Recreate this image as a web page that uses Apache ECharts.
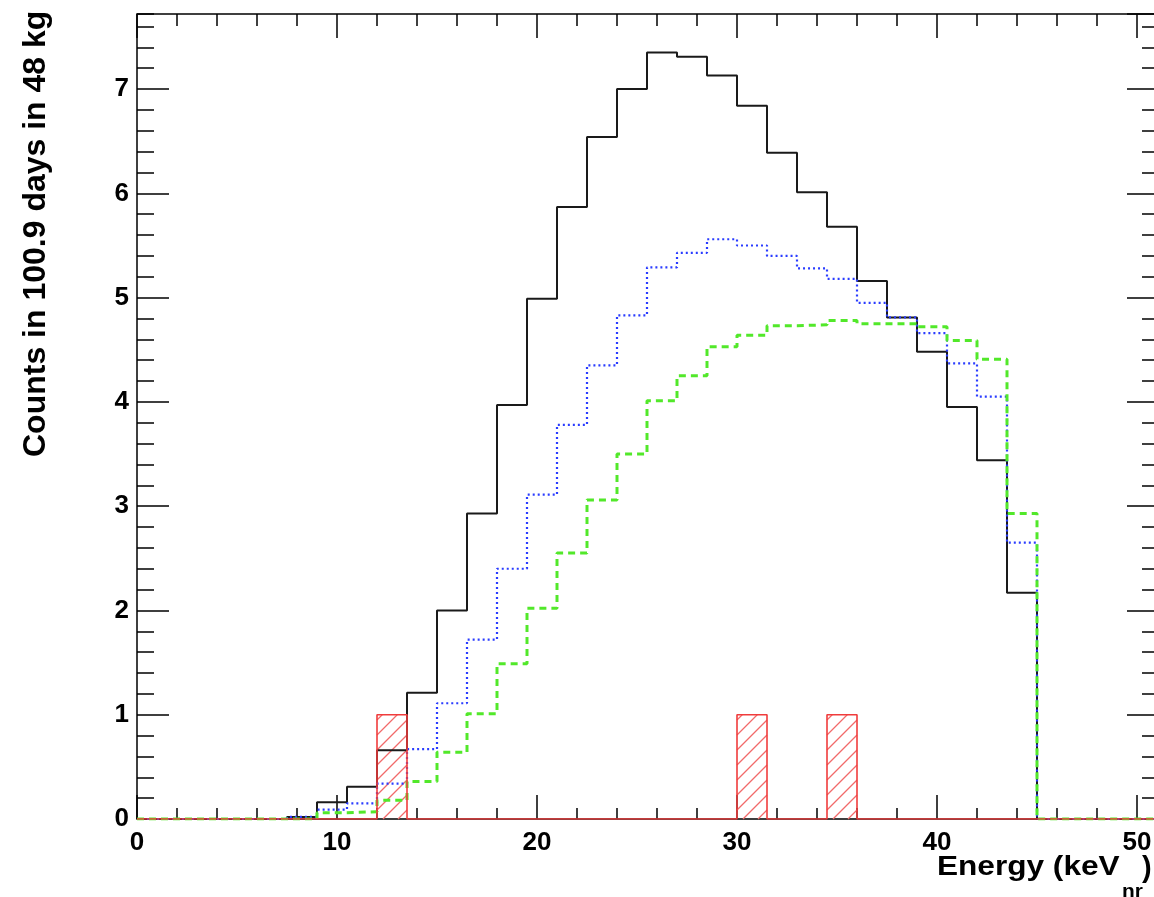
<!DOCTYPE html>
<html>
<head>
<meta charset="utf-8">
<script src="https://cdn.jsdelivr.net/npm/echarts@6/dist/echarts.min.js"></script>
<style>
  html, body { margin: 0; padding: 0; background: #fff; }
  #main { width: 1154px; height: 897px; }
</style>
</head>
<body>
<div id="main"></div>
<script>
// bin edges in keV (1.5 keV bins)
var edges = [0, 1.5, 3, 4.5, 6, 7.5, 9, 10.5, 12, 13.5, 15, 16.5, 18, 19.5, 21, 22.5, 24, 25.5,
  27, 28.5, 30, 31.5, 33, 34.5, 36, 37.5, 39, 40.5, 42, 43.5, 45, 46.5, 48, 49.5, 51];

// counts per bin
var black = [0, 0, 0, 0, 0, 0.02, 0.16, 0.31, 0.66, 1.21, 2.0, 2.93, 3.97, 4.99, 5.87, 6.54, 7.0,
  7.35, 7.31, 7.13, 6.84, 6.39, 6.01, 5.68, 5.16, 4.81, 4.48, 3.95, 3.44, 2.17, 0, 0, 0, 0];
var blue = [0, 0, 0, 0, 0, 0.02, 0.09, 0.15, 0.34, 0.67, 1.11, 1.72, 2.40, 3.11, 3.78, 4.35, 4.83,
  5.29, 5.43, 5.56, 5.50, 5.40, 5.28, 5.18, 4.95, 4.81, 4.66, 4.37, 4.05, 2.65, 0, 0, 0, 0];
var green = [0, 0, 0, 0, 0, 0, 0.06, 0.07, 0.18, 0.36, 0.64, 1.01, 1.49, 2.02, 2.55, 3.06, 3.50,
  4.01, 4.25, 4.53, 4.64, 4.73, 4.74, 4.78, 4.75, 4.75, 4.72, 4.59, 4.41, 2.93, 0, 0, 0, 0];
var red = [0, 0, 0, 0, 0, 0, 0, 0, 1, 0, 0, 0, 0, 0, 0, 0, 0, 0, 0, 0, 1, 0, 0, 1,
  0, 0, 0, 0, 0, 0, 0, 0, 0, 0];

var xLabels = ['0', '10', '20', '30', '40', '50'];
var yLabels = ['0', '1', '2', '3', '4', '5', '6', '7'];

var FONT = 'Liberation Sans';

function stepData(vals) {
  var d = [];
  for (var i = 0; i < vals.length; i++) d.push([edges[i], vals[i]]);
  d.push([edges[edges.length - 1], vals[vals.length - 1]]);
  return d;
}

var redBins = [];
for (var i = 0; i < red.length; i++) {
  if (red[i] > 0) redBins.push([edges[i], edges[i + 1], red[i]]);
}

function histLine(name, vals, color, width, type, z) {
  return {
    name: name, type: 'line', step: 'end', data: stepData(vals),
    showSymbol: false, symbol: 'none', z: z,
    lineStyle: { color: color, width: width, type: type },
    emphasis: { disabled: true }, silent: true
  };
}

function xAx(pos, interval, len, labels) {
  return {
    type: 'value', position: pos, min: 0, max: 51, interval: interval,
    axisLine: { show: false, onZero: false }, splitLine: { show: false },
    axisTick: { show: true, inside: true, length: len, lineStyle: { color: '#000', width: 1.5 } },
    axisLabel: {
      show: labels, showMaxLabel: false, margin: 11, color: '#000',
      fontFamily: FONT, fontWeight: 'bold', fontSize: 26,
      formatter: function (v) { return xLabels.indexOf(String(v)) >= 0 ? String(v) : ''; }
    }
  };
}

function yAx(pos, interval, len, labels) {
  return {
    type: 'value', position: pos, min: 0, max: 7.72, interval: interval,
    axisLine: { show: false, onZero: false }, splitLine: { show: false },
    axisTick: { show: true, inside: true, length: len, lineStyle: { color: '#000', width: 1.5 } },
    axisLabel: {
      show: labels, showMaxLabel: false, margin: 8, color: '#000',
      fontFamily: FONT, fontWeight: 'bold', fontSize: 26,
      formatter: function (v) { return yLabels.indexOf(String(v)) >= 0 ? String(v) : ''; }
    }
  };
}

var chart = echarts.init(document.getElementById('main'));

var option = {
  backgroundColor: '#fff',
  animation: false,
  grid: {
    left: 137, top: 14, right: -3, bottom: 78, outerBoundsMode: 'none',
    show: true, borderColor: '#000', borderWidth: 1.5, backgroundColor: 'transparent'
  },
  xAxis: [
    xAx('bottom', 10, 24, true),
    xAx('bottom', 2, 11, false),
    xAx('top', 10, 24, false),
    xAx('top', 2, 12, false)
  ],
  yAxis: [
    yAx('left', 1, 32, true),
    yAx('left', 0.2, 17, false),
    yAx('right', 1, 30, false),
    yAx('right', 0.2, 15, false)
  ],
  series: [
    {
      type: 'custom', name: 'hatch', data: redBins, z: 3, silent: true,
      renderItem: function (params, api) {
        var p0 = api.coord([api.value(0), 0]);
        var p1 = api.coord([api.value(1), api.value(2)]);
        var left = p0[0], right = p1[0], bottom = p0[1], top = p1[1];
        var w = right - left, h = bottom - top;
        var kids = [];
        var s = 15;
        for (var d = -w + s * 0.6; d < h; d += s) {
          var u1 = Math.max(0, -d), u2 = Math.min(w, h - d);
          if (u2 <= u1) continue;
          kids.push({
            type: 'line',
            shape: { x1: left + u1, y1: bottom - (u1 + d), x2: left + u2, y2: bottom - (u2 + d) },
            style: { stroke: '#f26a6a', lineWidth: 1.2 }
          });
        }
        return { type: 'group', children: kids };
      }
    },
    histLine('black', black, '#1a1a1a', 2, 'solid', 4),
    histLine('blue', blue, '#2a3cff', 2.2, [2, 3], 5),
    histLine('green', green, '#52e82a', 3, [7, 5], 5),
    histLine('red', red, '#f03c3c', 1.6, 'solid', 6)
  ],
  graphic: [
    {
      type: 'text', x: 36, y: 457, rotation: Math.PI / 2, silent: true,
      style: {
        text: 'Counts in 100.9 days in 48 kg', fill: '#000',
        font: 'bold 32px "Liberation Sans"', textAlign: 'left', textVerticalAlign: 'middle'
      }
    },
    {
      type: 'text', x: 937, y: 881, scaleX: 1.17, silent: true,
      style: {
        text: 'Energy (keV', fill: '#000',
        font: 'bold 27px "Liberation Sans"', textAlign: 'left', textVerticalAlign: 'bottom'
      }
    },
    {
      type: 'text', x: 1122, y: 901, scaleX: 1.1, silent: true,
      style: {
        text: 'nr', fill: '#000',
        font: 'bold 19px "Liberation Sans"', textAlign: 'left', textVerticalAlign: 'bottom'
      }
    },
    {
      type: 'text', x: 1142, y: 883, silent: true,
      style: {
        text: ')', fill: '#000',
        font: 'bold 29px "Liberation Sans"', textAlign: 'left', textVerticalAlign: 'bottom'
      }
    }
  ]
};

chart.setOption(option);
</script>
</body>
</html>
